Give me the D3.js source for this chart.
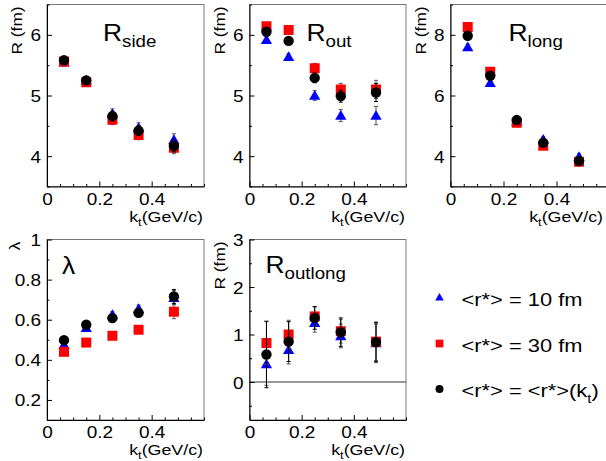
<!DOCTYPE html>
<html><head><meta charset="utf-8">
<script src="https://cdn.jsdelivr.net/npm/d3@7"></script>
<style>body{margin:0;background:#fff} svg{display:block} text{font-family:"Liberation Sans",Arial,sans-serif;fill:#000}</style>
</head><body><svg id="c" width="606" height="461"></svg>
<script>
// ---- data ----
const kt = [0.065, 0.15, 0.25, 0.35, 0.485];
const rsideBlue  = [5.55, 5.25, 4.70, 4.47, 4.27];
const rsideRed   = [5.56, 5.22, 4.60, 4.35, 4.14];
const rsideBlack = [5.58, 5.25, 4.66, 4.42, 4.17];
const rsideErr   = [0.05, 0.04, 0.08, 0.08, 0.10];
const routBlue   = [5.92, 5.64, 5.00, 4.67, 4.67];
const routRed    = [6.14, 6.08, 5.45, 5.10, 5.10];
const routBlack  = [6.05, 5.90, 5.29, 4.99, 5.05];
const routErr    = [0.05, 0.05, 0.08, 0.10, 0.15];
const rlongBlue  = [7.60, 6.42, 5.15, 4.55, 3.98];
const rlongRed   = [8.26, 6.78, 5.10, 4.34, 3.82];
const rlongBlack = [7.97, 6.65, 5.19, 4.44, 3.84];
const rlongErr   = [0.10, 0.10, 0.10, 0.10, 0.10];
const lambdaBlue  = [0.475, 0.56, 0.625, 0.655, 0.71];
const lambdaRed   = [0.44, 0.486, 0.52, 0.55, 0.64];
const lambdaBlack = [0.498, 0.575, 0.608, 0.634, 0.716];
const lambdaErr   = [0.01, 0.012, 0.015, 0.018, 0.035];
const routlongBlue  = [0.38, 0.68, 1.25, 0.97, 0.82];
const routlongRed   = [0.82, 1.00, 1.38, 1.07, 0.85];
const routlongBlack = [0.58, 0.85, 1.35, 1.05, 0.84];
const routlongErrBlack = [0.70, 0.42, 0.24, 0.30, 0.42];
const routlongErr      = [0.45, 0.30, 0.20, 0.25, 0.40];
const xTicks = [0, 0.2, 0.4];
const rsideTicks = [4, 5, 6];
const routTicks = [4, 5, 6];
const rlongTicks = [4, 6, 8];
const lambdaTicks = [0.2, 0.4, 0.6, 0.8, 1];
const routlongTicks = [0, 1, 2, 3];
const legendLabels = [[["<r*> = 10 fm"]], [["<r*> = 30 fm"]], [["<r*> = <r*>(k"], ["t", "sub"], [")"]]];
const seriesColors = ["#0000ff", "#ff0000", "#000000"];
const seriesShapes = ["tri", "sq", "circ"];

// ---- layout ----
const svg = d3.select("#c");
const SX = 1.15;

function stext(parent, x, y, parts, size, opts = {}) {
  const g = parent.append("g")
    .attr("transform", `translate(${x},${y})` + (opts.rot ? ` rotate(${opts.rot})` : "") + ` scale(${opts.sx || SX},1)`);
  const t = g.append("text").attr("font-size", size).attr("text-anchor", opts.anchor || "start");
  let shifted = 0;
  parts.forEach(p => {
    const ts = t.append("tspan").text(p[0]);
    if (p[1] === "sub") {
      ts.attr("font-size", opts.subSize || size * 0.72).attr("dy", (opts.subDy || size * 0.3) - shifted);
      shifted = opts.subDy || size * 0.3;
    } else if (shifted) {
      ts.attr("dy", -shifted); shifted = 0;
    }
  });
  return g;
}

const panels = [
  {title: "R", sub: "side", x0: 47, x1: 204, y0: 4.5, y1: 186.5, dom: [3.5, 6.5], ticks: rsideTicks, minor: 0.5,
   ylab: "R (fm)", series: [rsideBlue, rsideRed, rsideBlack], errs: [rsideErr, rsideErr, rsideErr], tdx: 56, tdy: 36},
  {title: "R", sub: "out", x0: 249.5, x1: 406, y0: 4.5, y1: 186.5, dom: [3.5, 6.5], ticks: routTicks, minor: 0.5,
   ylab: "R (fm)", series: [routBlue, routRed, routBlack], errs: [routErr, routErr, routErr], tdx: 57, tdy: 36},
  {title: "R", sub: "long", x0: 450.5, x1: 609.5, y0: 4.5, y1: 186.5, dom: [3, 9], ticks: rlongTicks, minor: 1,
   ylab: "R (fm)", series: [rlongBlue, rlongRed, rlongBlack], errs: [rlongErr, rlongErr, rlongErr], tdx: 58, tdy: 36},
  {title: "λ", sub: "", x0: 47, x1: 204, y0: 239.5, y1: 420, dom: [0.1, 1], ticks: lambdaTicks, minor: 0.1,
   ylab: "λ", series: [lambdaBlue, lambdaRed, lambdaBlack], errs: [lambdaErr, lambdaErr, lambdaErr], tdx: 15, tdy: 34},
  {title: "R", sub: "outlong", x0: 249.5, x1: 406, y0: 239.5, y1: 420, dom: [-0.8, 3], ticks: routlongTicks, minor: 0.5,
   ylab: "R (fm)", series: [routlongBlue, routlongRed, routlongBlack], errs: [routlongErr, routlongErr, routlongErrBlack], tdx: 16, tdy: 33, zero: true}
];

const sym = {
  tri: d3.symbol(d3.symbolTriangle, 55),
  sq: d3.symbol(d3.symbolSquare, 100),
  circ: d3.symbol(d3.symbolCircle, 85)
};
const symLegend = {
  tri: d3.symbol(d3.symbolTriangle, 32),
  sq: d3.symbol(d3.symbolSquare, 60),
  circ: d3.symbol(d3.symbolCircle, 50)
};

panels.forEach(p => {
  const x = d3.scaleLinear().domain([0, 0.6]).range([p.x0, p.x1]);
  const y = d3.scaleLinear().domain(p.dom).range([p.y1, p.y0]);
  const g = svg.append("g");
  // frame
  g.append("rect").attr("x", p.x0).attr("y", p.y0).attr("width", p.x1 - p.x0).attr("height", p.y1 - p.y0)
    .attr("fill", "none").attr("stroke", "#777").attr("stroke-width", 1);
  if (p.zero) g.append("line").attr("x1", p.x0).attr("x2", p.x1).attr("y1", y(0)).attr("y2", y(0)).attr("stroke", "#333");
  // x axis
  const xMinor = d3.range(0, 0.6001, 0.05).filter(v => !xTicks.some(t => Math.abs(t - v) < 1e-6));
  g.append("g").attr("transform", `translate(0,${p.y1})`)
    .call(d3.axisBottom(x).tickValues(xMinor).tickSizeInner(-2.5).tickSizeOuter(0).tickFormat(""))
    .call(a => a.select(".domain").attr("stroke", "#000"));
  const xa = g.append("g").attr("transform", `translate(0,${p.y1})`)
    .call(d3.axisBottom(x).tickValues(xTicks).tickSizeInner(-5).tickSizeOuter(0).tickPadding(0).tickFormat(d3.format("~g")));
  xa.select(".domain").remove();
  xa.selectAll(".tick text").each(function(d) {
    const tk = d3.select(this.parentNode);
    d3.select(this).remove();
    stext(tk, 0, 18, [[d3.format("~g")(d)]], 16.5, {anchor: "middle"});
  });
  // y axis
  const yMinor = d3.range(Math.ceil(p.dom[0] / p.minor) * p.minor, p.dom[1] + 1e-6, p.minor)
    .filter(v => !p.ticks.some(t => Math.abs(t - v) < 1e-6));
  g.append("g").attr("transform", `translate(${p.x0},0)`)
    .call(d3.axisLeft(y).tickValues(yMinor).tickSizeInner(-2.5).tickSizeOuter(0).tickFormat(""))
    .call(a => a.select(".domain").attr("stroke", "#000"));
  const ya = g.append("g").attr("transform", `translate(${p.x0},0)`)
    .call(d3.axisLeft(y).tickValues(p.ticks).tickSizeInner(-5).tickSizeOuter(0).tickFormat(d3.format("~g")));
  ya.select(".domain").remove();
  ya.selectAll(".tick text").each(function(d) {
    const tk = d3.select(this.parentNode);
    d3.select(this).remove();
    stext(tk, -6, 6, [[d3.format("~g")(d)]], 16.5, {anchor: "end"});
  });
  g.selectAll(".tick line").attr("stroke", "#000");
  // axis titles
  stext(g, Math.min(p.x1, 604) - 1, p.y1 + 35, [["k"], ["t", "sub"], ["(GeV/c)"]], 15.5, {anchor: "end", subSize: 11, subDy: 4});
  if (p.ylab === "λ") stext(g, p.x0 - 27, p.y0 + 2, [["λ"]], 15.5, {anchor: "end", rot: -90});
  else stext(g, p.x0 - 25, p.y0 + 2, [[p.ylab]], 15, {anchor: "end", rot: -90});
  // title
  const tparts = p.sub ? [[p.title], [p.sub, "sub"]] : [[p.title]];
  stext(g, p.x0 + p.tdx, p.y0 + p.tdy, tparts, 24, {subSize: 17, subDy: 6, sx: 1.1});
  // data
  const clip = "clip" + panels.indexOf(p);
  g.append("clipPath").attr("id", clip).append("rect").attr("x", p.x0).attr("y", p.y0).attr("width", p.x1 - p.x0).attr("height", p.y1 - p.y0);
  const dg = g.append("g").attr("clip-path", `url(#${clip})`);
  p.series.forEach((vals, si) => {
    const col = seriesColors[si];
    const errs = p.errs[si];
    const sg = dg.append("g");
    sg.selectAll("line.eb").data(vals).join("line").attr("class", "eb")
      .attr("x1", (d, i) => x(kt[i])).attr("x2", (d, i) => x(kt[i]))
      .attr("y1", (d, i) => y(d - errs[i])).attr("y2", (d, i) => y(d + errs[i]))
      .attr("stroke", si === 2 ? "#000" : "#555").attr("stroke-width", 1);
    ["lo", "hi"].forEach(k => {
      sg.selectAll("line.cap" + k).data(vals).join("line").attr("class", "cap" + k)
        .attr("x1", (d, i) => x(kt[i]) - 2).attr("x2", (d, i) => x(kt[i]) + 2)
        .attr("y1", (d, i) => y(k === "lo" ? d - errs[i] : d + errs[i]))
        .attr("y2", (d, i) => y(k === "lo" ? d - errs[i] : d + errs[i]))
        .attr("stroke", si === 2 ? "#000" : "#555").attr("stroke-width", 1);
    });
    sg.selectAll("path.m").data(vals).join("path").attr("class", "m")
      .attr("d", sym[seriesShapes[si]]())
      .attr("transform", (d, i) => `translate(${x(kt[i])},${y(d) + (seriesShapes[si] === "tri" ? 1 : 0)})`)
      .attr("fill", col);
  });
});

// ---- legend ----
const legY = d3.scalePoint().domain(d3.range(legendLabels.length)).range([298, 389]);
const leg = svg.append("g");
legendLabels.forEach((parts, i) => {
  leg.append("path").attr("d", symLegend[seriesShapes[i]]())
    .attr("transform", `translate(439.5,${legY(i)})`).attr("fill", seriesColors[i]);
  stext(leg, 461.5, legY(i) + 8, parts, 17.5, {sx: 1.25, subSize: 12, subDy: 6});
});
</script></body></html>
